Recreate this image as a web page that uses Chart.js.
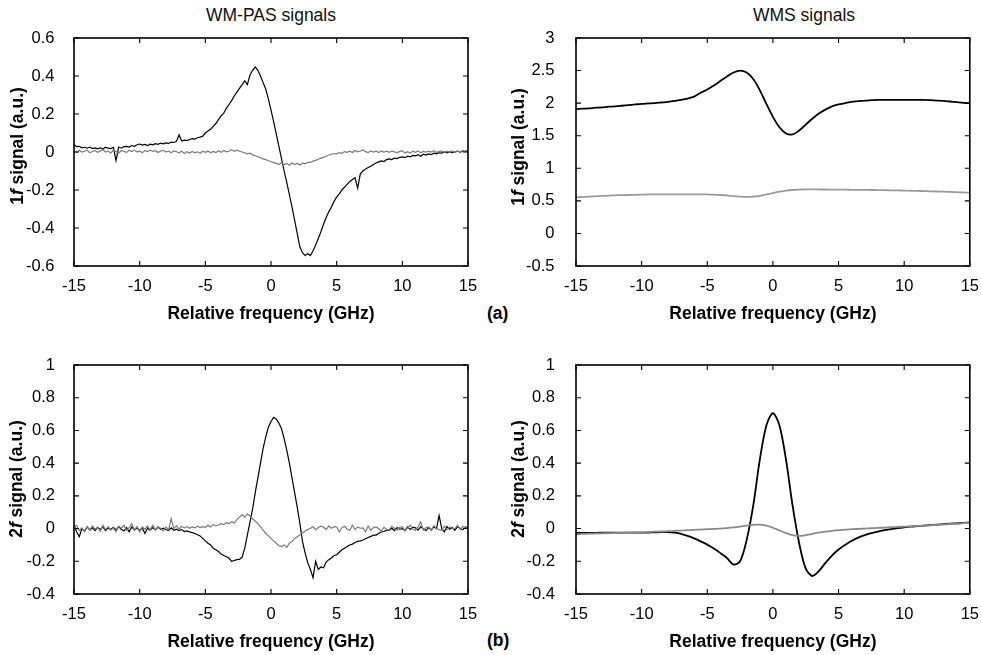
<!DOCTYPE html>
<html><head><meta charset="utf-8">
<script src="https://cdn.jsdelivr.net/npm/chart.js@4.4.1/dist/chart.umd.min.js"></script>
<style>
html,body{margin:0;padding:0;background:#fff;}
body{width:982px;height:655px;position:relative;overflow:hidden;font-family:'Liberation Sans',Arial,Helvetica,sans-serif;}
.panel{position:absolute;}
.ttl{position:absolute;font-size:17.5px;line-height:20px;color:#111;white-space:nowrap;transform:translateX(-50%);}
.lab{position:absolute;font-size:17.5px;line-height:20px;font-weight:bold;color:#000;}
</style></head><body>
<div class="ttl" style="left:271px;top:5px">WM-PAS signals</div>
<div class="ttl" style="left:804px;top:5px">WMS signals</div>
<div class="lab" style="left:487px;top:303px">(a)</div>
<div class="lab" style="left:487px;top:630px">(b)</div>
<div class="panel" style="left:0;top:0;width:491px;height:327px"><canvas id="c1"></canvas></div>
<div class="panel" style="left:491px;top:0;width:491px;height:327px"><canvas id="c2"></canvas></div>
<div class="panel" style="left:0;top:327px;width:491px;height:328px"><canvas id="c3"></canvas></div>
<div class="panel" style="left:491px;top:327px;width:491px;height:328px"><canvas id="c4"></canvas></div>
<script>
// ---------- data ----------
const freqFine = [-15,-14.8,-14.6,-14.4,-14.2,-14,-13.8,-13.6,-13.4,-13.2,-13,-12.8,-12.6,-12.4,-12.2,-12,-11.8,-11.6,-11.4,-11.2,-11,-10.8,-10.6,-10.4,-10.2,-10,-9.8,-9.6,-9.4,-9.2,-9,-8.8,-8.6,-8.4,-8.2,-8,-7.8,-7.6,-7.4,-7.2,-7,-6.8,-6.6,-6.4,-6.2,-6,-5.8,-5.6,-5.4,-5.2,-5,-4.8,-4.6,-4.4,-4.2,-4,-3.8,-3.6,-3.4,-3.2,-3,-2.8,-2.6,-2.4,-2.2,-2,-1.8,-1.6,-1.4,-1.2,-1,-0.8,-0.6,-0.4,-0.2,0,0.2,0.4,0.6,0.8,1,1.2,1.4,1.6,1.8,2,2.2,2.4,2.6,2.8,3,3.2,3.4,3.6,3.8,4,4.2,4.4,4.6,4.8,5,5.2,5.4,5.6,5.8,6,6.2,6.4,6.6,6.8,7,7.2,7.4,7.6,7.8,8,8.2,8.4,8.6,8.8,9,9.2,9.4,9.6,9.8,10,10.2,10.4,10.6,10.8,11,11.2,11.4,11.6,11.8,12,12.2,12.4,12.6,12.8,13,13.2,13.4,13.6,13.8,14,14.2,14.4,14.6,14.8,15];
const freqCoarse = [-15,-14.5,-14,-13.5,-13,-12.5,-12,-11.5,-11,-10.5,-10,-9.5,-9,-8.5,-8,-7.5,-7,-6.5,-6,-5.5,-5,-4.5,-4,-3.5,-3,-2.5,-2,-1.5,-1,-0.5,0,0.5,1,1.5,2,2.5,3,3.5,4,4.5,5,5.5,6,6.5,7,7.5,8,8.5,9,9.5,10,10.5,11,11.5,12,12.5,13,13.5,14,14.5,15];

// WM-PAS 1f signal (black = on, gray = off)
const pas1fBlack = [
0.04,0.028,0.03,0.022,0.025, 0.02,0.026,0.018,0.022,0.017, 0.022,0.016,0.025,0.02,0.018,
0.024,-0.045,0.026,0.02,0.028, 0.03,0.026,0.034,0.03,0.038, 0.042,0.036,0.04,0.034,0.041,
0.038,0.044,0.04,0.047,0.043, 0.048,0.045,0.052,0.05,0.056, 0.09,0.058,0.062,0.06,0.066,
0.07,0.068,0.075,0.078,0.083, 0.1,0.11,0.12,0.135,0.15, 0.17,0.19,0.205,0.23,0.25,
0.27,0.295,0.315,0.335,0.355, 0.375,0.355,0.405,0.43,0.448, 0.43,0.4,0.365,0.33,0.28,
0.22,0.16,0.095,0.03,-0.035, -0.1,-0.16,-0.225,-0.29,-0.36, -0.43,-0.5,-0.53,-0.545,-0.535,
-0.545,-0.52,-0.49,-0.455,-0.42, -0.38,-0.345,-0.315,-0.29,-0.26, -0.237,-0.22,-0.2,-0.185,-0.17,
-0.155,-0.145,-0.135,-0.19,-0.115, -0.1,-0.09,-0.082,-0.075,-0.066, -0.058,-0.052,-0.047,-0.05,-0.04,
-0.036,-0.04,-0.032,-0.035,-0.028, -0.026,-0.03,-0.022,-0.026,-0.018, -0.02,-0.014,-0.022,-0.012,-0.016,
-0.01,-0.014,-0.006,-0.01,-0.004, -0.006,0.0,-0.005,0.002,-0.003, 0.0,0.005,-0.002,0.006,0.002,
0.008];
const pas1fGray = [
0.006,-0.003,0.009,0.0,0.004, 0.01,-0.004,0.003,0.008,-0.002, 0.006,0.012,0.0,0.005,-0.005,
0.01,0.002,-0.006,0.008,0.003, -0.002,0.009,0.002,0.01,0.0, 0.006,-0.004,0.008,0.002,0.01,
0.003,0.007,-0.003,0.005,0.009, 0.0,0.005,-0.004,0.006,0.001, -0.004,0.004,-0.008,0.002,-0.005,
0.003,-0.004,0.001,-0.007,0.004, -0.002,0.006,-0.004,0.003,-0.003, 0.005,-0.002,0.008,0.001,0.004,
0.012,0.003,0.01,0.004,0.0, -0.004,-0.01,-0.006,-0.015,-0.02, -0.025,-0.03,-0.036,-0.04,-0.046,
-0.05,-0.056,-0.06,-0.065,-0.058, -0.066,-0.06,-0.07,-0.058,-0.066, -0.06,-0.068,-0.058,-0.062,-0.054,
-0.055,-0.048,-0.044,-0.038,-0.032, -0.028,-0.022,-0.016,-0.012,-0.008, -0.01,-0.003,-0.007,0.002,-0.002,
0.004,-0.003,0.008,0.001,0.005, 0.012,0.002,-0.003,0.006,0.0, 0.004,-0.003,0.006,0.0,0.004,
-0.002,0.005,0.001,-0.004,0.003, 0.006,-0.005,0.002,-0.006,0.004, -0.002,0.005,-0.004,0.003,-0.001,
0.004,0.0,0.007,-0.003,0.003, 0.005,-0.002,0.004,0.0,0.006, -0.003,0.005,0.0,0.007,0.002,
0.01];

// WMS 1f signal (black = on, gray = off)
const wms1fBlack = [1.91,1.915,1.92,1.93,1.935,1.945,1.95,1.96,1.97,1.98,1.99,1.995,2.0,2.01,2.02,2.035,2.05,2.07,2.1,2.16,2.21,2.27,2.34,2.41,2.47,2.5,2.47,2.37,2.2,1.99,1.79,1.63,1.535,1.52,1.58,1.67,1.76,1.84,1.9,1.95,1.98,2.0,2.02,2.03,2.04,2.045,2.05,2.05,2.05,2.05,2.05,2.05,2.05,2.05,2.045,2.04,2.035,2.025,2.015,2.005,2.0];
const wms1fGray = [0.555,0.56,0.565,0.57,0.575,0.58,0.585,0.588,0.59,0.593,0.595,0.598,0.6,0.6,0.6,0.6,0.6,0.6,0.6,0.6,0.598,0.595,0.59,0.583,0.573,0.565,0.56,0.565,0.578,0.598,0.62,0.64,0.657,0.667,0.672,0.675,0.675,0.675,0.674,0.673,0.672,0.671,0.67,0.669,0.668,0.667,0.666,0.664,0.662,0.66,0.658,0.655,0.652,0.65,0.647,0.644,0.641,0.637,0.633,0.629,0.625];

// WM-PAS 2f signal (black = on, gray = off)
const pas2fBlack = [
0.02,-0.02,-0.05,0.0,-0.015, 0.01,-0.01,0.005,-0.012,0.008, -0.005,0.01,-0.012,0.004,-0.006,
0.008,-0.01,0.012,-0.004,-0.015, 0.006,-0.02,0.01,-0.008,0.004, -0.012,0.004,-0.03,0.002,-0.01,
0.006,-0.008,0.01,-0.004,0.002, -0.006,-0.012,0.004,-0.01,-0.004, -0.012,-0.006,-0.018,-0.014,-0.02,
-0.025,-0.03,-0.038,-0.045,-0.06, -0.075,-0.09,-0.1,-0.12,-0.13, -0.14,-0.155,-0.165,-0.172,-0.18,
-0.2,-0.195,-0.19,-0.188,-0.175, -0.12,-0.04,0.04,0.12,0.22, 0.31,0.4,0.49,0.56,0.62,
0.655,0.68,0.67,0.645,0.61, 0.55,0.48,0.4,0.31,0.22, 0.13,0.03,-0.08,-0.15,-0.21,
-0.25,-0.3,-0.2,-0.25,-0.235, -0.24,-0.205,-0.19,-0.18,-0.165, -0.16,-0.145,-0.13,-0.12,-0.11,
-0.1,-0.095,-0.085,-0.078,-0.075, -0.07,-0.062,-0.055,-0.048,-0.04, -0.04,-0.03,-0.02,-0.018,-0.01,
-0.01,0.002,-0.012,0.006,-0.004, 0.0,-0.012,0.01,-0.006,0.008, 0.004,-0.01,0.012,-0.002,-0.012,
0.006,-0.008,0.01,0.0,0.08, 0.0,-0.02,0.012,-0.004,0.006, -0.01,0.012,0.0,-0.008,0.01,
0.005];
const pas2fGray = [
0.01,0.02,-0.012,0.004,-0.02, 0.012,-0.008,0.016,-0.004,0.008, -0.016,0.02,-0.006,0.012,-0.01,
0.004,-0.02,0.014,0.002,0.02, -0.01,0.006,0.03,-0.008,0.012, -0.02,0.01,-0.004,0.016,-0.008,
0.02,-0.01,0.008,0.002,-0.014, 0.01,-0.006,0.06,0.0,0.018, -0.004,0.014,0.004,0.012,0.002,
0.01,0.004,0.014,0.006,0.012, 0.008,0.02,0.01,0.024,0.016, 0.022,0.03,0.024,0.036,0.03,
0.042,0.034,0.055,0.07,0.085, 0.07,0.09,0.075,0.06,0.045, 0.03,0.01,-0.01,-0.03,-0.045,
-0.06,-0.075,-0.09,-0.105,-0.11, -0.1,-0.115,-0.09,-0.08,-0.06, -0.05,-0.04,-0.025,-0.015,-0.005,
0.0,0.012,-0.008,0.006,0.015, 0.008,-0.006,0.016,0.002,0.012, 0.01,-0.02,0.006,0.014,-0.004,
-0.01,0.02,-0.006,0.01,0.002, 0.004,-0.02,0.016,-0.01,0.006, 0.01,0.0,-0.016,0.008,-0.004,
-0.006,0.014,0.002,-0.01,0.008, 0.01,-0.014,0.004,0.02,-0.006, -0.01,0.012,0.04,-0.01,0.006,
0.01,-0.012,0.018,0.0,-0.006, -0.01,0.016,-0.006,0.01,0.002, 0.0,0.02,-0.006,0.014,0.004,
0.0];

// WMS 2f signal (black = on, gray = off)
const wms2fBlack = [-0.027,-0.027,-0.026,-0.026,-0.025,-0.025,-0.025,-0.025,-0.025,-0.025,-0.025,-0.024,-0.023,-0.022,-0.022,-0.025,-0.032,-0.045,-0.06,-0.078,-0.098,-0.122,-0.15,-0.18,-0.22,-0.2,-0.07,0.14,0.42,0.63,0.705,0.63,0.42,0.14,-0.09,-0.245,-0.29,-0.26,-0.21,-0.165,-0.128,-0.1,-0.075,-0.055,-0.04,-0.028,-0.018,-0.01,-0.003,0.003,0.008,0.012,0.015,0.018,0.021,0.024,0.027,0.03,0.032,0.035,0.038];
const wms2fGray = [-0.035,-0.033,-0.031,-0.03,-0.029,-0.028,-0.027,-0.026,-0.025,-0.024,-0.023,-0.021,-0.019,-0.018,-0.016,-0.014,-0.012,-0.01,-0.008,-0.006,-0.004,-0.002,0.0,0.003,0.007,0.012,0.018,0.023,0.024,0.018,0.005,-0.012,-0.028,-0.04,-0.045,-0.04,-0.032,-0.025,-0.019,-0.014,-0.01,-0.007,-0.004,-0.002,0.0,0.002,0.004,0.006,0.008,0.01,0.012,0.014,0.016,0.018,0.02,0.022,0.025,0.028,0.03,0.033,0.036];

// ticks
const xTicks = [-15,-10,-5,0,5,10,15];
const xTickLabels = ['-15','-10','-5','0','5','10','15'];
const y1fPasTicks = [-0.6,-0.4,-0.2,0,0.2,0.4,0.6];
const y1fPasLabels = ['-0.6','-0.4','-0.2','0','0.2','0.4','0.6'];
const y1fWmsTicks = [-0.5,0,0.5,1,1.5,2,2.5,3];
const y1fWmsLabels = ['-0.5','0','0.5','1','1.5','2','2.5','3'];
const y2fTicks = [-0.4,-0.2,0,0.2,0.4,0.6,0.8,1];
const y2fLabels = ['-0.4','-0.2','0','0.2','0.4','0.6','0.8','1'];
const xTitle = 'Relative frequency (GHz)';

// ---------- drawing ----------
const FONT = "'Liberation Sans', Arial, Helvetica, sans-serif";
Chart.defaults.font.family = FONT;
Chart.defaults.color = '#000';

const boxPlugin = {
  id: 'boxPlugin',
  afterDraw(chart) {
    const o = chart.options.plugins.boxPlugin;
    const {ctx, chartArea: a, scales: {x, y}} = chart;
    ctx.save();
    ctx.strokeStyle = '#000';
    ctx.lineWidth = 1.6;
    ctx.strokeRect(a.left, a.top, a.right - a.left, a.bottom - a.top);
    ctx.lineWidth = 1.1;
    const L = 5;
    ctx.beginPath();
    x.ticks.forEach(t => {
      const px = x.getPixelForValue(t.value);
      ctx.moveTo(px, a.bottom); ctx.lineTo(px, a.bottom - L);
      ctx.moveTo(px, a.top); ctx.lineTo(px, a.top + L);
    });
    y.ticks.forEach(t => {
      const py = y.getPixelForValue(t.value);
      ctx.moveTo(a.left, py); ctx.lineTo(a.left + L, py);
      ctx.moveTo(a.right, py); ctx.lineTo(a.right - L, py);
    });
    ctx.stroke();
    // y axis title with italic f
    const parts = o.yTitle;
    const size = 17.5;
    ctx.translate(o.yTitleX, o.yTitleY);
    ctx.rotate(-Math.PI / 2);
    ctx.fillStyle = '#000';
    ctx.textBaseline = 'middle';
    ctx.textAlign = 'left';
    let total = 0;
    parts.forEach(p => { ctx.font = (p.it ? 'italic ' : '') + 'bold ' + size + 'px ' + FONT; p.w = ctx.measureText(p.t).width; total += p.w; });
    let cx = -total / 2;
    parts.forEach(p => { ctx.font = (p.it ? 'italic ' : '') + 'bold ' + size + 'px ' + FONT; ctx.fillText(p.t, cx, 0); cx += p.w; });
    ctx.restore();
  }
};

function pts(xs, ys) { return xs.map((v, i) => ({x: v, y: ys[i]})); }

function makeChart(id, c) {
  return new Chart(document.getElementById(id), {
    type: 'line',
    data: {
      datasets: c.series.map(s => ({
        data: pts(s.x, s.y), borderColor: s.color, borderWidth: s.w,
        pointRadius: 0, tension: s.tension, fill: false, order: s.order
      }))
    },
    options: {
      responsive: true, maintainAspectRatio: false, animation: false, events: [],
      layout: {padding: {left: 0, top: c.top, right: c.right, bottom: 0}},
      plugins: {
        legend: {display: false}, tooltip: {enabled: false}, title: {display: false},
        boxPlugin: {yTitle: c.yTitle, yTitleX: c.yTitleX, yTitleY: c.yTitleY}
      },
      scales: {
        x: {
          type: 'linear', min: -15, max: 15,
          afterBuildTicks: s => { s.ticks = xTicks.map(v => ({value: v})); },
          afterFit: s => { s.height = c.xh; },
          grid: {display: false}, border: {display: false},
          ticks: {padding: 3, color: '#000', font: {size: 16.5}, maxRotation: 0, autoSkip: false,
                  callback: (v, i) => xTickLabels[i]},
          title: {display: true, text: xTitle, color: '#000', font: {size: 17.5, weight: 'bold'},
                  padding: {top: 0, bottom: 2.5}}
        },
        y: {
          type: 'linear', min: c.yMin, max: c.yMax,
          afterBuildTicks: s => { s.ticks = c.yTicks.map(v => ({value: v})); },
          afterFit: s => { s.width = c.yw; },
          grid: {display: false}, border: {display: false},
          ticks: {padding: c.yPad, color: '#000', font: {size: 16.5}, autoSkip: false,
                  callback: (v, i) => c.yLabels[i]},
          title: {display: false}
        }
      }
    },
    plugins: [boxPlugin]
  });
}

const t1f = [{t: '1'}, {t: 'f', it: true}, {t: ' signal (a.u.)'}];
const t2f = [{t: '2'}, {t: 'f', it: true}, {t: ' signal (a.u.)'}];

makeChart('c1', {
  top: 38, right: 23, xh: 61, yw: 74, yPad: 11.5, yMin: -0.6, yMax: 0.6,
  yTicks: y1fPasTicks, yLabels: y1fPasLabels, yTitle: t1f, yTitleX: 18, yTitleY: 146,
  series: [
    {x: freqFine, y: pas1fGray, color: '#7a7a7a', w: 1.2, tension: 0, order: 0},
    {x: freqFine, y: pas1fBlack, color: '#000', w: 1.2, tension: 0, order: 1}
  ]
});
makeChart('c2', {
  top: 38, right: 11, xh: 61, yw: 85, yPad: 13.5, yMin: -0.5, yMax: 3,
  yTicks: y1fWmsTicks, yLabels: y1fWmsLabels, yTitle: t1f, yTitleX: 28.5, yTitleY: 147,
  series: [
    {x: freqCoarse, y: wms1fGray, color: '#9a9a9a', w: 1.8, tension: 0.3, order: 0},
    {x: freqCoarse, y: wms1fBlack, color: '#000', w: 1.8, tension: 0.3, order: 1}
  ]
});
makeChart('c3', {
  top: 38, right: 23, xh: 61, yw: 74, yPad: 11, yMin: -0.4, yMax: 1,
  yTicks: y2fTicks, yLabels: y2fLabels, yTitle: t2f, yTitleX: 17.5, yTitleY: 152,
  series: [
    {x: freqFine, y: pas2fGray, color: '#7a7a7a', w: 1.2, tension: 0, order: 0},
    {x: freqFine, y: pas2fBlack, color: '#000', w: 1.2, tension: 0, order: 1}
  ]
});
makeChart('c4', {
  top: 38, right: 11, xh: 61, yw: 85, yPad: 13, yMin: -0.4, yMax: 1,
  yTicks: y2fTicks, yLabels: y2fLabels, yTitle: t2f, yTitleX: 28.5, yTitleY: 152,
  series: [
    {x: freqCoarse, y: wms2fGray, color: '#8a8a8a', w: 1.8, tension: 0.3, order: 0},
    {x: freqCoarse, y: wms2fBlack, color: '#000', w: 1.8, tension: 0.3, order: 1}
  ]
});
</script>
</body></html>
